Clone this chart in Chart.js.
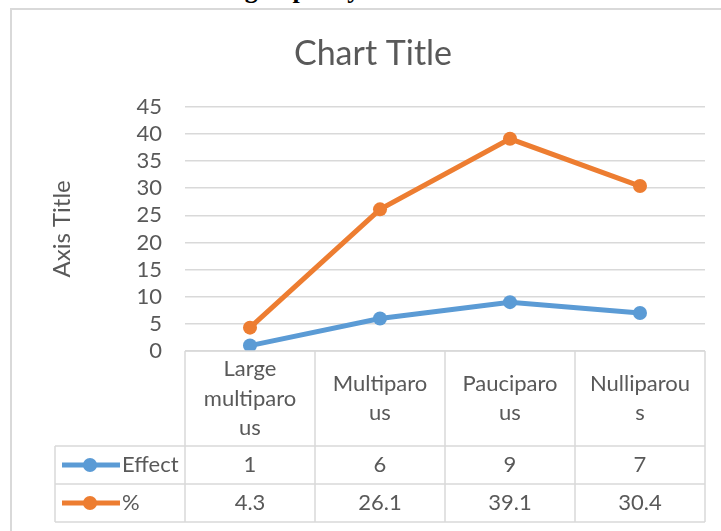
<!DOCTYPE html>
<html>
<head>
<meta charset="utf-8">
<script src="https://cdn.jsdelivr.net/npm/chart.js@4"></script>
<style>
  html,body{margin:0;padding:0;background:#fff;overflow:hidden;}
  #wrap{position:relative;width:721px;height:531px;overflow:hidden;}
  #doc{position:absolute;left:148px;top:-23px;font:bold 26px/26px "Liberation Serif",serif;color:#000;white-space:nowrap;}
  #c{position:absolute;left:0;top:0;}
</style>
</head>
<body>
<div id="wrap">
  <div id="doc">according to parity</div>
  <canvas id="c" width="721" height="531"></canvas>
</div>
<script>
  /* ====== DATA ====== */
  const categories   = ['Large multiparous','Multiparous','Pauciparous','Nulliparous'];
  const catLines     = [['Large','multiparo','us'],['Multiparo','us'],['Pauciparo','us'],['Nulliparou','s']];
  const effectVals   = [1, 6, 9, 7];
  const percentVals  = [4.3, 26.1, 39.1, 30.4];
  const seriesNames  = ['Effect', '%'];
  const yMin = 0, yMax = 45, yStep = 5;

  /* ====== STYLE ====== */
  const FONT = 'Lato, "Noto Sans", sans-serif';
  const TXT = '#595959', GRID = '#d9d9d9';
  const BLUE = '#5b9bd5', ORANGE = '#ed7d31';

  // border of the chart object + data table under the plot
  const tablePlugin = {
    id:'dataTable',
    beforeDraw(chart){
      const ctx = chart.ctx;
      ctx.save();
      ctx.strokeStyle = GRID; ctx.lineWidth = 2;
      ctx.strokeRect(11, 9, 900, 700);
      ctx.restore();
    },
    afterDraw(chart){
      const {ctx, chartArea:a, scales:{x}} = chart;
      const n = categories.length, colW = (a.right - a.left) / n;
      const top = a.bottom, headH = 95, rowH = 38, tLeft = 55;
      const r1 = top + headH, r2 = r1 + rowH, r3 = r2 + rowH;
      ctx.save();
      ctx.strokeStyle = GRID; ctx.lineWidth = 1.5;
      ctx.beginPath();
      for(let i=0;i<=n;i++){ const xx = a.left + i*colW; ctx.moveTo(xx, top); ctx.lineTo(xx, r3); }
      ctx.moveTo(a.left, top); ctx.lineTo(a.right, top);
      [r1, r2, r3].forEach(yy=>{ ctx.moveTo(tLeft, yy); ctx.lineTo(a.right, yy); });
      ctx.moveTo(tLeft, r1); ctx.lineTo(tLeft, r3);
      ctx.stroke();

      ctx.fillStyle = TXT; ctx.font = '22px ' + FONT;
      ctx.textAlign = 'center'; ctx.textBaseline = 'middle';
      const lh = 29.5;
      catLines.forEach((lines, i)=>{
        const cx = x.getPixelForValue(i);
        const y0 = top + headH/2 - (lines.length-1)*lh/2;
        lines.forEach((t, j)=> ctx.fillText(t, cx, y0 + j*lh));
      });
      const rows = [[effectVals, BLUE], [percentVals, ORANGE]];
      rows.forEach(([vals, col], k)=>{
        const cy = r1 + rowH*k + rowH/2;
        ctx.fillStyle = TXT; ctx.textAlign = 'center';
        vals.forEach((v, i)=> ctx.fillText(String(v), x.getPixelForValue(i), cy));
        // legend key
        ctx.strokeStyle = col; ctx.lineWidth = 5;
        ctx.beginPath(); ctx.moveTo(62, cy); ctx.lineTo(120, cy); ctx.stroke();
        ctx.fillStyle = col;
        ctx.beginPath(); ctx.arc(90, cy, 7, 0, Math.PI*2); ctx.fill();
        ctx.fillStyle = TXT; ctx.textAlign = 'left';
        ctx.fillText(seriesNames[k], 122, cy);
      });
      ctx.restore();
    }
  };

  const mkSet = (label, data, col)=>({
    label, data, borderColor: col, backgroundColor: col,
    borderWidth: 5, pointRadius: 7, pointHoverRadius: 7,
    pointBackgroundColor: col, pointBorderColor: col, pointBorderWidth: 0, tension: 0
  });

  new Chart(document.getElementById('c').getContext('2d'), {
    type:'line',
    data:{
      labels: categories,
      datasets:[ mkSet(seriesNames[0], effectVals, BLUE), mkSet(seriesNames[1], percentVals, ORANGE) ]
    },
    plugins:[tablePlugin],
    options:{
      responsive:false, animation:false, devicePixelRatio:1,
      layout:{padding:{left:41, right:16, top:0, bottom:180}},
      plugins:{
        legend:{display:false}, tooltip:{enabled:false},
        title:{display:true, text:'Chart Title', color:TXT,
               font:{family:FONT, size:34, weight:'normal'}, padding:{top:34, bottom:32}}
      },
      scales:{
        x:{display:false, offset:true},
        y:{
          min:yMin, max:yMax,
          ticks:{stepSize:yStep, autoSkip:false, color:TXT, padding:23, font:{family:FONT, size:22}},
          grid:{color:GRID, lineWidth:1.5, drawTicks:false},
          border:{display:false},
          title:{display:true, text:'Axis Title', color:TXT, font:{family:FONT, size:24}, padding:{top:7, bottom:0}},
          afterFit(s){ s.width = 144; }
        }
      }
    }
  });
</script>
</body>
</html>
